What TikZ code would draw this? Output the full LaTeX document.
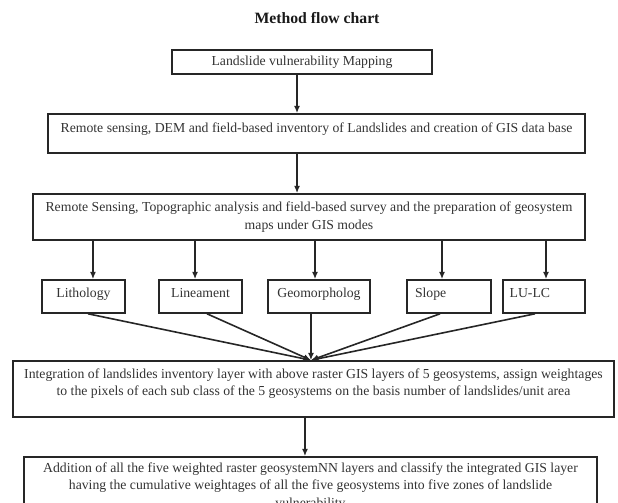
\documentclass[tikz,border=0pt]{standalone}
\usepackage{fontspec}
\setmainfont{Liberation Serif}
\usetikzlibrary{arrows.meta}

\begin{document}
\begin{tikzpicture}[x=0.75pt,y=-0.75pt,
    box/.style={draw=black!85, line width=1.2pt, text=black!80, align=center, inner sep=0pt,
        font=\fontsize{10.3}{13}\selectfont},
    geobox/.style={box, minimum height=24.75pt, text depth=5pt},
    arr/.style={-{Latex[length=5.5pt,width=4.5pt]}, line width=1.2pt, draw=black!85}]

    \useasboundingbox (0,0) rectangle (618,503);
    \clip (0,0) rectangle (618,503);

    % Title
    \node[font=\bfseries\fontsize{11.8}{14}\selectfont, text=black!90] (title) at (317,18) {Method flow chart};

    % Main steps
    \node[box, minimum width=195pt, minimum height=18pt] (map) at (302,62) {Landslide vulnerability Mapping};
    \node[box, minimum width=402.75pt, minimum height=29.25pt, text depth=9.5pt] (inv) at (316.5,133.5)
        {Remote sensing, DEM and field-based inventory of Landslides and creation of GIS data base};
    \node[box, minimum width=414pt, minimum height=34.5pt, font=\fontsize{10.3}{14}\selectfont] (prep) at (309,217)
        {Remote Sensing, Topographic analysis and field-based survey and the preparation of geosystem\\maps under GIS modes};

    % Geosystem layers
    \node[geobox, minimum width=62.25pt] (lith) at (83.5,296.5) {Lithology};
    \node[geobox, minimum width=62.25pt] (linea) at (200.5,296.5) {Lineament};
    \node[geobox, minimum width=76.5pt] (geo) at (319,296.5) {Geomorpholog};
    \node[geobox, inner xsep=6pt, text width=51pt, align=left] (slope) at (449,296.5) {Slope};
    \node[geobox, inner xsep=5pt, text width=51.5pt, align=left] (lulc) at (544,296.5) {LU-LC};

    % Integration and classification
    \node[box, minimum width=450.75pt, minimum height=42pt, text depth=10.3pt] (integ) at (313.5,389)
        {Integration of landslides inventory layer with above raster GIS layers of 5 geosystems, assign weightages\\
         to the pixels of each sub class of the 5 geosystems on the basis number of landslides/unit area};
    \node[box, minimum width=429.75pt, minimum height=44.25pt] (add) at (310.5,486.5)
        {Addition of all the five weighted raster geosystemNN layers and classify the integrated GIS layer\\
         having the cumulative weightages of all the five geosystems into five zones of landslide\\
         vulnerability};

    % Connections
    \draw[arr] ([xshift=-3.75pt]map.south) -- ([xshift=-3.75pt]map.south |- inv.north);
    \draw[arr] ([xshift=-14.6pt]inv.south) -- ([xshift=-14.6pt]inv.south |- prep.north);

    \foreach \n/\dx in {lith/7.1, linea/-4.1, geo/-3, slope/-5.25, lulc/1.5}
        \draw[arr] ([xshift=\dx pt]\n.north |- prep.south) -- ([xshift=\dx pt]\n.north);

    \coordinate (join) at ([xshift=-1.9pt]integ.north);
    \foreach \n/\dx in {lith/3.4, linea/4.9, geo/-6, slope/-6.75, lulc/-6.75}
        \draw[arr] ([xshift=\dx pt]\n.south) -- (join);

    \draw[arr] ([xshift=-6.4pt]integ.south) -- ([xshift=-6.4pt]integ.south |- add.north);
\end{tikzpicture}
\end{document}
